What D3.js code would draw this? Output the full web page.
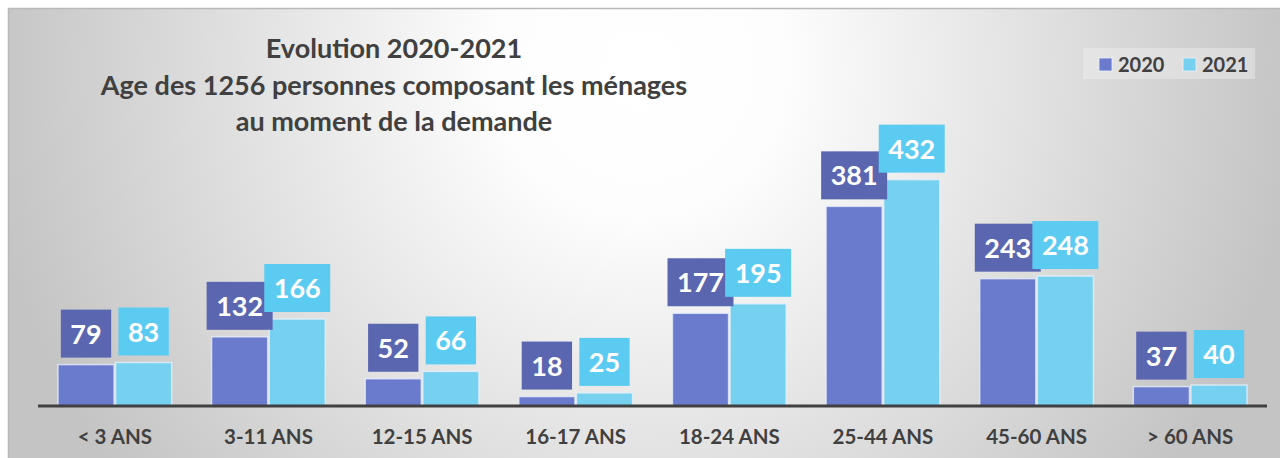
<!DOCTYPE html>
<html><head><meta charset="utf-8">
<script src="https://cdn.jsdelivr.net/npm/d3@7"></script>
<style>html,body{margin:0;padding:0;background:#fff;}svg{display:block;}</style>
</head><body>
<svg id="chart" width="1280" height="458"></svg>
<script>
const categories = ["< 3 ANS","3-11 ANS","12-15 ANS","16-17 ANS","18-24 ANS","25-44 ANS","45-60 ANS","> 60 ANS"];
const seriesNames = ["2020","2021"];
const values2020 = [79,132,52,18,177,381,243,37];
const values2021 = [83,166,66,25,195,432,248,40];
const titleLines = ["Evolution 2020-2021","Age des 1256 personnes composant les ménages","au moment de la demande"];

const W = 1280, H = 458;
const svg = d3.select("#chart");
const font = "Lato, 'Open Sans', sans-serif";
const barColors = ["#6a7bcd","#76d1f1"];
const boxColors = ["#5a66b0","#5ccbf2"];

// background
const defs = svg.append("defs");
const grad = defs.append("radialGradient").attr("id","bg")
  .attr("gradientUnits","userSpaceOnUse").attr("cx",640).attr("cy",70).attr("r",660);
grad.append("stop").attr("offset",0).attr("stop-color","#ffffff");
grad.append("stop").attr("offset",0.22).attr("stop-color","#fdfdfd");
grad.append("stop").attr("offset",1).attr("stop-color","#c4c4c4");
svg.append("rect").attr("x",8.5).attr("y",8.5).attr("width",W).attr("height",H)
  .attr("fill","url(#bg)").attr("stroke","#b9b9b9").attr("stroke-width",1.5);

// scales
const x = d3.scaleBand().domain(categories).range([38,1267]).paddingInner(0.25).paddingOuter(0.125);
const xs = d3.scaleBand().domain(seriesNames).range([0,x.bandwidth()]).padding(0);
const y = d3.scaleLinear().domain([0,500]).range([406,144]);

const data = categories.map((c,i)=>({cat:c, vals:[values2020[i],values2021[i]]}));

// bars
const g = svg.append("g");
seriesNames.forEach((s,si)=>{
  g.selectAll(".bar"+si).data(data).join("rect")
    .attr("x",d=>x(d.cat)+xs(s)+0.75)
    .attr("y",d=>y(d.vals[si]))
    .attr("width",xs.bandwidth()-1.5)
    .attr("height",d=>y(0)-y(d.vals[si]))
    .attr("fill",barColors[si])
    .attr("stroke","rgba(235,240,250,0.75)").attr("stroke-width",1.5);
});

// axis line
svg.append("line").attr("x1",38).attr("x2",1267).attr("y1",406).attr("y2",406)
  .attr("stroke","#404040").attr("stroke-width",3);

// category labels via axis
const ax = svg.append("g").attr("transform","translate(0,406)")
  .call(d3.axisBottom(x).tickSize(0).tickPadding(0));
ax.select(".domain").remove();
ax.selectAll("text").attr("y",38).attr("dy",null)
  .attr("font-family",font).attr("font-weight","bold").attr("font-size","20.5px").attr("fill","#404040");

// value label boxes
seriesNames.forEach((s,si)=>{
  data.forEach(d=>{
    const cx = x(d.cat)+xs(s)+xs.bandwidth()/2;
    const top = y(d.vals[si]);
    const lg = svg.append("g");
    const t = lg.append("text").text(d.vals[si])
      .attr("font-family",font).attr("font-weight","bold").attr("font-size","27px")
      .attr("fill","#ffffff").attr("text-anchor","middle");
    const tw = t.node().getComputedTextLength();
    const bw = tw + 19, bh = 48;
    const by = top - 7 - bh;
    lg.insert("rect","text").attr("x",cx-bw/2).attr("y",by).attr("width",bw).attr("height",bh)
      .attr("fill",boxColors[si]);
    t.attr("x",cx).attr("y",by+bh/2+10);
  });
});

// title
const tt = svg.append("text").attr("text-anchor","middle")
  .attr("font-family",font).attr("font-weight","bold").attr("font-size","27px").attr("fill","#404040");
titleLines.forEach((l,i)=>{
  tt.append("tspan").attr("x",394).attr("y",58+i*36.5).text(l);
});

// legend
const leg = svg.append("g");
leg.append("rect").attr("x",1083).attr("y",48).attr("width",172).attr("height",31)
  .attr("fill","rgba(240,240,240,0.45)");
const legX = [1099,1183];
seriesNames.forEach((s,si)=>{
  leg.append("rect").attr("x",legX[si]).attr("y",58).attr("width",13).attr("height",13)
    .attr("fill",barColors[si]).attr("stroke","rgba(235,240,250,0.8)").attr("stroke-width",1);
  leg.append("text").attr("x",legX[si]+19).attr("y",71.5).text(s)
    .attr("font-family",font).attr("font-weight","bold").attr("font-size","20px").attr("fill","#404040");
});
</script>
</body></html>
